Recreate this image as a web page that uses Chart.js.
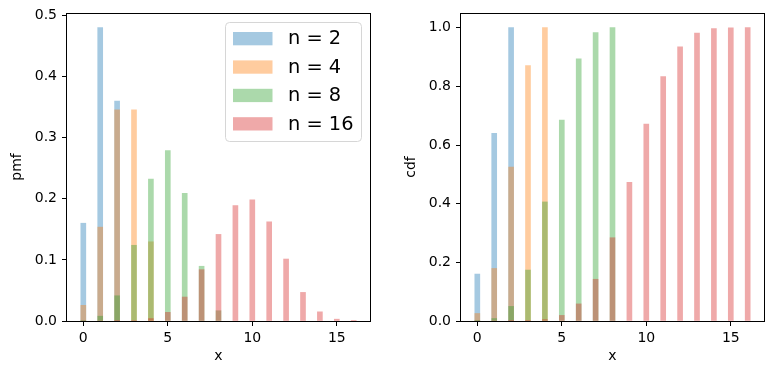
<!DOCTYPE html>
<html>
<head>
<meta charset="utf-8">
<script src="https://cdn.jsdelivr.net/npm/chart.js@4"></script>
<style>
  body { margin: 0; background: #fff; }
  #wrap { position: relative; width: 774px; height: 376px; }
  canvas { position: absolute; top: 0; }
</style>
</head>
<body>
<div id="wrap">
  <canvas id="pmfChart" width="385" height="376" style="left:0"></canvas>
  <canvas id="cdfChart" width="389" height="376" style="left:385px"></canvas>
</div>
<script>
// values
const xValues = [0, 1, 2, 3, 4, 5, 6, 7, 8, 9, 10, 11, 12, 13, 14, 15, 16];
const seriesLabels = ["n = 2", "n = 4", "n = 8", "n = 16"];

const pmf2 = [0.16, 0.48, 0.36];
const pmf4 = [0.0256, 0.1536, 0.3456, 0.3456, 0.1296];
const pmf8 = [0.0007, 0.0079, 0.0413, 0.1239, 0.2322, 0.2787, 0.2090, 0.0896, 0.0168];
const pmf16 = [0, 0, 0.0001, 0.0008, 0.0040, 0.0142, 0.0392, 0.0840, 0.1417, 0.1889,
               0.1983, 0.1623, 0.1014, 0.0468, 0.0150, 0.0030, 0.0003];

const cdf2 = [0.16, 0.64, 1.0];
const cdf4 = [0.0256, 0.1792, 0.5248, 0.8704, 1.0];
const cdf8 = [0.0007, 0.0085, 0.0498, 0.1737, 0.4059, 0.6846, 0.8936, 0.9832, 1.0];
const cdf16 = [0, 0, 0.0001, 0.0009, 0.0049, 0.0191, 0.0583, 0.1423, 0.2839, 0.4728,
               0.6712, 0.8334, 0.9349, 0.9817, 0.9967, 0.9997, 1.0];

const xTicks = [0, 5, 10, 15];
const pmfTicks = [0, 0.1, 0.2, 0.3, 0.4, 0.5];
const cdfTicks = [0, 0.2, 0.4, 0.6, 0.8, 1.0];

const colors = [
  "rgba(31,119,180,0.4)",
  "rgba(255,127,14,0.4)",
  "rgba(44,160,44,0.4)",
  "rgba(214,39,40,0.4)"
];

Chart.defaults.font.family = "'DejaVu Sans'";
Chart.defaults.font.size = 14;
Chart.defaults.color = "#000";

const framePlugin = {
  id: "frame",
  afterDraw(chart) {
    const a = chart.chartArea;
    const ctx = chart.ctx;
    ctx.save();
    ctx.strokeStyle = "#000";
    ctx.lineWidth = 1;
    ctx.strokeRect(Math.round(a.left) - 0.5, Math.round(a.top) + 0.5,
                   Math.round(a.right - a.left) + 1, Math.round(a.bottom - a.top));
    ctx.restore();
  }
};

const legendPlugin = {
  id: "boxLegend",
  afterDraw(chart) {
    const ctx = chart.ctx;
    ctx.save();
    const x = 225.5, y = 22.5, w = 136, h = 119, r = 4;
    ctx.beginPath();
    ctx.moveTo(x + r, y);
    ctx.arcTo(x + w, y, x + w, y + h, r);
    ctx.arcTo(x + w, y + h, x, y + h, r);
    ctx.arcTo(x, y + h, x, y, r);
    ctx.arcTo(x, y, x + w, y, r);
    ctx.closePath();
    ctx.fillStyle = "rgba(255,255,255,0.8)";
    ctx.fill();
    ctx.strokeStyle = "#d6d6d6";
    ctx.lineWidth = 1;
    ctx.stroke();
    ctx.font = "19.4px 'DejaVu Sans'";
    ctx.textBaseline = "alphabetic";
    seriesLabels.forEach((lab, i) => {
      ctx.fillStyle = colors[i];
      ctx.fillRect(233, 32 + 28.4 * i, 39.5, 13.3);
      ctx.fillStyle = "#000";
      ctx.fillText(lab, 288, 44.3 + 28.4 * i);
    });
    ctx.restore();
  }
};

function makeChart(id, series, yMax, yTicks, yTitle, yWidth, titlePad, rightPad, extraPlugins) {
  const datasets = series.map((vals, i) => ({
    label: seriesLabels[i],
    data: vals.map((v, k) => ({ x: xValues[k], y: v })),
    backgroundColor: colors[i],
    borderWidth: 0,
    barThickness: 5,
    grouped: false,
    order: series.length - 1 - i
  }));
  return new Chart(document.getElementById(id), {
    type: "bar",
    data: { datasets: datasets },
    options: {
      responsive: false,
      animation: false,
      layout: { padding: { top: 13, right: rightPad, left: 0, bottom: 0 } },
      plugins: { legend: { display: false }, tooltip: { enabled: false } },
      scales: {
        x: {
          type: "linear",
          min: -0.965,
          max: 16.965,
          offset: false,
          grid: { offset: false, drawOnChartArea: false, drawTicks: true, tickLength: 5, color: "#000" },
          border: { display: false },
          ticks: { padding: 4, maxRotation: 0, callback: v => String(v) },
          title: { display: true, text: "x", padding: { top: 0, bottom: 11 } },
          afterBuildTicks: s => { s.ticks = xTicks.map(v => ({ value: v })); },
          afterFit: s => { s.height = 55; s.paddingLeft = 0; s.paddingRight = 0; }
        },
        y: {
          min: 0,
          max: yMax,
          grid: { drawOnChartArea: false, drawTicks: true, tickLength: 5, color: "#000" },
          border: { display: false },
          ticks: { padding: 5, callback: v => v.toFixed(1) },
          title: { display: true, text: yTitle, padding: { top: titlePad } },
          afterBuildTicks: s => { s.ticks = yTicks.map(v => ({ value: v })); },
          afterFit: s => { s.width = yWidth; s.paddingTop = 0; s.paddingBottom = 0; }
        }
      }
    },
    plugins: [framePlugin].concat(extraPlugins)
  });
}

makeChart("pmfChart", [pmf2, pmf4, pmf8, pmf16], 0.504, pmfTicks, "pmf", 67, 9, 15, [legendPlugin]);
makeChart("cdfChart", [cdf2, cdf4, cdf8, cdf16], 1.05, cdfTicks, "cdf", 76, 18, 10, []);
</script>
</body>
</html>
